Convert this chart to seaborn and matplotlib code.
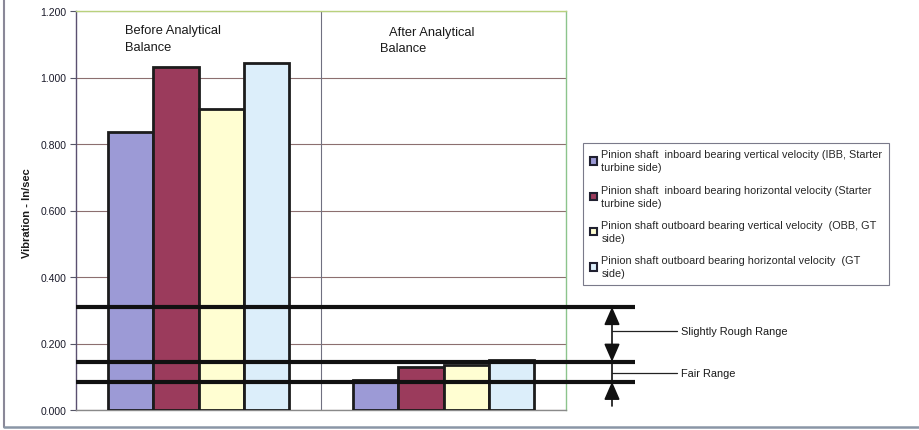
import matplotlib
matplotlib.use("Agg")
import matplotlib.pyplot as plt
from matplotlib.patches import Patch, ArrowStyle
from matplotlib.lines import Line2D
import seaborn as sns
import pandas as pd

# ---- data -------------------------------------------------------------
stages = ["Before Analytical Balance", "After Analytical Balance"]
series = [
    "Pinion shaft  inboard bearing vertical velocity (IBB, Starter\nturbine side)",
    "Pinion shaft  inboard bearing horizontal velocity (Starter\nturbine side)",
    "Pinion shaft outboard bearing vertical velocity  (OBB, GT\nside)",
    "Pinion shaft outboard bearing horizontal velocity  (GT\nside)",
]
before_values = [0.836, 1.032, 0.905, 1.044]
after_values = [0.091, 0.130, 0.135, 0.150]
bar_colors = ["#9c9ad6", "#9b3b5c", "#fffed2", "#dceefa"]

range_limits = [0.310, 0.145, 0.085]
range_labels = ["Slightly Rough Range", "Fair Range"]
range_label_levels = [0.238, 0.111]

y_ticks = [0.0, 0.2, 0.4, 0.6, 0.8, 1.0, 1.2]
y_tick_labels = ["0.000", "0.200", "0.400", "0.600", "0.800", "1.000", "1.200"]

df = pd.DataFrame({
    "stage": [stages[0]] * 4 + [stages[1]] * 4,
    "series": series * 2,
    "velocity": before_values + after_values,
})

# ---- style ------------------------------------------------------------
sns.set_theme(style="white")
plt.rcParams["font.family"] = ["Liberation Sans", "DejaVu Sans"]

W, H = 919, 431
fig = plt.figure(figsize=(W / 100, H / 100), dpi=100)
fig.patch.set_facecolor("white")

# plot area in pixel terms: x 76..566, y 12..411
ax = fig.add_axes([76 / W, (H - 411) / H, 490 / W, 399 / H])

sns.barplot(data=df, x="stage", y="velocity", hue="series",
            order=stages, hue_order=series, palette=bar_colors,
            width=0.735, gap=0, saturation=1, edgecolor="#1c1c1c",
            linewidth=2.0, errorbar=None, legend=False, ax=ax, zorder=3)

ax.set_xlim(-0.5, 1.5)
ax.set_ylim(0, 1.2)
ax.set_xlabel("")
ax.set_ylabel("")
ax.set_xticks([])
ax.set_yticks(y_ticks)
ax.set_yticklabels(y_tick_labels, fontsize=7.5, color="#1a1a2a")
ax.tick_params(axis="y", left=True, length=4, width=0.8, color="#555566", pad=3)

# horizontal grid and group divider
ax.yaxis.grid(True, color="#8c6f6f", linewidth=0.8)
ax.set_axisbelow(True)
ax.axvline(0.5, color="#707080", linewidth=0.8, zorder=1)

for side, col in [("left", "#5a5070"), ("top", "#b9d17d"),
                  ("right", "#8cc48c"), ("bottom", "#8a8a8a")]:
    ax.spines[side].set_visible(True)
    ax.spines[side].set_color(col)
    ax.spines[side].set_linewidth(1.0)

# group captions
txt_kw = dict(transform=ax.transAxes, fontsize=9.3, color="#1a1a1a", va="center", ha="left")
ax.text((125 - 76) / 490, (411 - 31) / 399, "Before Analytical", **txt_kw)
ax.text((125 - 76) / 490, (411 - 48) / 399, "Balance", **txt_kw)
ax.text((389 - 76) / 490, (411 - 33) / 399, "After Analytical", **txt_kw)
ax.text((380 - 76) / 490, (411 - 49) / 399, "Balance", **txt_kw)

# y axis title
fig.text(27 / W, 1 - 213 / H, "Vibration - In/sec", rotation=90, fontsize=8,
         fontweight="bold", ha="center", va="center", color="#1a1a1a")

# ---- vibration range bands ---------------------------------------------
trans = ax.get_yaxis_transform()
x_end = (635 - 76) / 490
x_arrow = (612 - 76) / 490
x_conn_end = (677 - 76) / 490
x_label = (681 - 76) / 490

for lim in range_limits:
    ax.plot([0, x_end], [lim, lim], transform=trans, color="#111111",
            linewidth=3, solid_capstyle="butt", clip_on=False, zorder=6)

head = ArrowStyle("<|-|>", head_length=0.55, head_width=0.24)
ax.annotate("", xy=(x_arrow, range_limits[0]), xytext=(x_arrow, range_limits[1]),
            xycoords=trans, textcoords=trans, annotation_clip=False,
            arrowprops=dict(arrowstyle=head, color="#111111", lw=1.2,
                            mutation_scale=20, shrinkA=0, shrinkB=0))
ax.plot([x_arrow, x_arrow], [range_limits[1], range_limits[2]], transform=trans,
        color="#111111", linewidth=1.2, clip_on=False, zorder=6)
ax.annotate("", xy=(x_arrow, range_limits[2]), xytext=(x_arrow, 0.012),
            xycoords=trans, textcoords=trans, annotation_clip=False,
            arrowprops=dict(arrowstyle=ArrowStyle("-|>", head_length=0.55, head_width=0.24),
                            color="#111111", lw=1.2, mutation_scale=20,
                            shrinkA=0, shrinkB=0))

for lvl, lab in zip(range_label_levels, range_labels):
    ax.plot([x_arrow, x_conn_end], [lvl, lvl], transform=trans, color="#222222",
            linewidth=0.9, clip_on=False, zorder=6)
    ax.text(x_label, lvl, lab, transform=trans, fontsize=7.9, va="center",
            ha="left", color="#1a1a1a", clip_on=False)

# ---- legend -------------------------------------------------------------
handles = [Patch(facecolor=c, edgecolor="#202030", linewidth=1.5) for c in bar_colors]
leg = ax.legend(handles, series, loc="upper left",
                bbox_to_anchor=(583 / W, 1 - 144 / H), bbox_transform=fig.transFigure,
                fontsize=7.8, frameon=True, fancybox=False, framealpha=1,
                edgecolor="#7a7a8a", handlelength=0.7, handleheight=0.7,
                handletextpad=0.4, labelspacing=1.15, borderpad=0.6,
                borderaxespad=0)
leg.get_frame().set_linewidth(0.8)
for t in leg.get_texts():
    t.set_linespacing(1.35)

# ---- page frame -----------------------------------------------------------
fig.add_artist(Line2D([4 / W, 4 / W], [1 - 428 / H, 1.0], transform=fig.transFigure,
                      color="#8a8898", linewidth=1.5))
fig.add_artist(Line2D([4 / W, 1.0], [1 - 428 / H, 1 - 428 / H], transform=fig.transFigure,
                      color="#8a96a6", linewidth=1.8))

fig.savefig("out.png", dpi=100, facecolor="white")
